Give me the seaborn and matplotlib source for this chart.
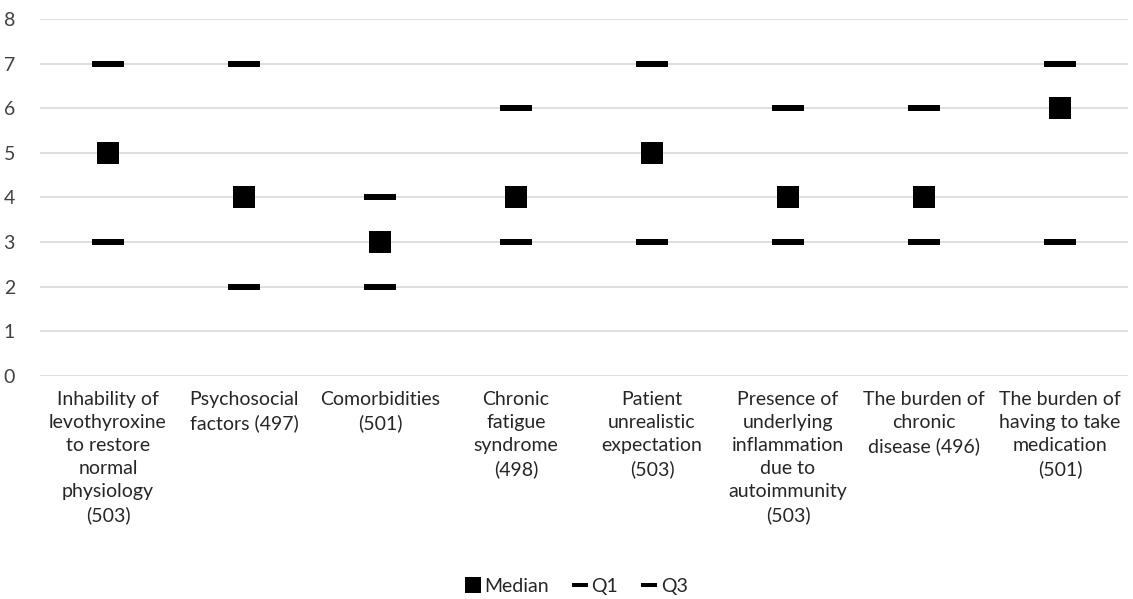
import matplotlib
matplotlib.use("Agg")
import matplotlib.pyplot as plt
import seaborn as sns
import pandas as pd
import numpy as np
from matplotlib.path import Path
from matplotlib.lines import Line2D

categories = [
    "Inhability of\nlevothyroxine\nto restore\nnormal\nphysiology\n(503)",
    "Psychosocial\nfactors (497)",
    "Comorbidities\n(501)",
    "Chronic\nfatigue\nsyndrome\n(498)",
    "Patient\nunrealistic\nexpectation\n(503)",
    "Presence of\nunderlying\ninflammation\ndue to\nautoimmunity\n(503)",
    "The burden of\nchronic\ndisease (496)",
    "The burden of\nhaving to take\nmedication\n(501)",
]
median = [5, 4, 3, 4, 5, 4, 4, 6]
q1 = [3, 2, 2, 3, 3, 3, 3, 3]
q3 = [7, 7, 4, 6, 7, 6, 6, 7]
y_ticks = [0, 1, 2, 3, 4, 5, 6, 7, 8]

sns.set_theme(style="white")
plt.rcParams['font.family'] = ['Lato', 'DejaVu Sans']

fig = plt.figure(figsize=(11.33, 5.99), dpi=100)
ax = fig.add_axes([0.0353, 0.3723, 0.9603, 0.596])

dash = Path([(-1, -0.21), (1, -0.21), (1, 0.21), (-1, 0.21), (-1, -0.21)],
            [Path.MOVETO, Path.LINETO, Path.LINETO, Path.LINETO, Path.CLOSEPOLY])

df = pd.DataFrame({"cat": categories, "Median": median, "Q1": q1, "Q3": q3})

sns.scatterplot(data=df, x="cat", y="Median", marker="s", s=250, color="black",
                linewidth=0, ax=ax, zorder=3, legend=False)
sns.scatterplot(data=df, x="cat", y="Q1", marker=dash, s=560, color="black",
                linewidth=0, ax=ax, zorder=3, legend=False)
sns.scatterplot(data=df, x="cat", y="Q3", marker=dash, s=560, color="black",
                linewidth=0, ax=ax, zorder=3, legend=False)

ax.set_xlim(-0.5, len(categories) - 0.5)
ax.set_ylim(0, 8)
ax.set_yticks(y_ticks)
ax.grid(axis="y", color="#d9d9d9", linewidth=1.2)
ax.set_axisbelow(True)
for sp in ax.spines.values():
    sp.set_visible(False)
ax.set_xlabel("")
ax.set_ylabel("")
ax.tick_params(axis="y", labelsize=14, labelcolor="#404040", pad=18, length=0)
ax.tick_params(axis="x", labelsize=14, labelcolor="#262626", pad=11, length=0)
for lbl in ax.get_xticklabels():
    lbl.set_verticalalignment("top")
    lbl.set_horizontalalignment("center")
    lbl.set_multialignment("center")
    lbl.set_linespacing(1.42)

handles = [
    Line2D([], [], linestyle="none", marker="s", markersize=11, color="black", markeredgewidth=0),
    Line2D([], [], linestyle="none", marker=dash, markersize=11.5, color="black", markeredgewidth=0),
    Line2D([], [], linestyle="none", marker=dash, markersize=11.5, color="black", markeredgewidth=0),
]
ax.legend(handles, ["Median", "Q1", "Q3"], loc="center", bbox_to_anchor=(0.493, -0.59),
          ncol=3, frameon=False, fontsize=14, handlelength=0.8, handletextpad=0.2,
          columnspacing=1.2, labelcolor="#262626")

fig.savefig("out.png", dpi=100)
